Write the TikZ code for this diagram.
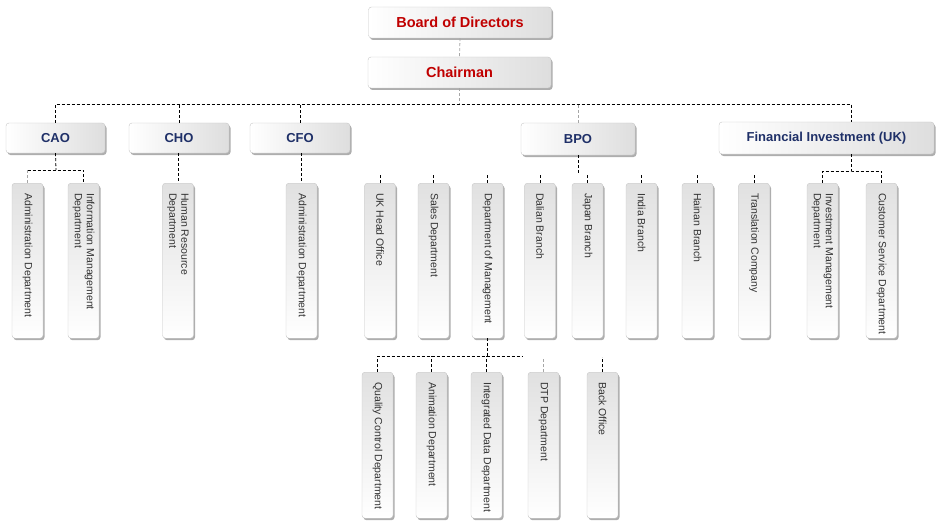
\documentclass[tikz,border=0pt]{standalone}
\usepackage{fontspec}
\setmainfont{Liberation Sans}
\usetikzlibrary{shadows}
\definecolor{boardred}{HTML}{C00000}
\definecolor{chiefblue}{HTML}{1F3068}
\definecolor{deptgray}{HTML}{333333}
\newcommand{\vlabel}[2][145pt]{\rotatebox{-90}{\hspace*{10pt}\parbox{#1}{\raggedright #2}}}

\begin{document}
\begin{tikzpicture}[x=1pt,y=-1pt]
\tikzset{
  boxbase/.style={draw=black!22,line width=0.4pt,rounded corners=3pt,inner sep=0pt,
    drop shadow={shadow xshift=1.5pt,shadow yshift=-2pt,opacity=0.45,fill=black!70}},
  topbox/.style={boxbase,left color=white,right color=black!13,minimum width=183pt,minimum height=31pt,
    text=boardred,font=\fontsize{14.5}{16}\selectfont\bfseries},
  chiefbox/.style={boxbase,left color=white,right color=black!13,minimum height=30pt,
    text=chiefblue,font=\fontsize{13}{15}\selectfont\bfseries},
  deptbox/.style={boxbase,top color=black!12,bottom color=white,minimum width=31pt,minimum height=155pt,
    text=deptgray,font=\fontsize{10.5}{12}\selectfont},
  unitbox/.style={deptbox,minimum height=146pt},
  link/.style={draw=black,line width=0.8pt,dash pattern=on 3pt off 2pt},
  faintlink/.style={link,draw=black!35}
}
\useasboundingbox (0,0) rectangle (947,532);
% top of the tree
\node[topbox] (n_board) at (460,22.5) {Board of Directors};
\node[topbox] (n_chair) at (459.5,72.5) {Chairman};
% chiefs
\node[chiefbox,minimum width=99pt] (n_cao) at (55.5,138) {CAO};
\node[chiefbox,minimum width=100pt] (n_cho) at (179,138) {CHO};
\node[chiefbox,minimum width=100pt] (n_cfo) at (300,138) {CFO};
\node[chiefbox,minimum width=114pt,minimum height=32pt] (n_bpo) at (578,139) {BPO};
\node[chiefbox,minimum width=215pt,minimum height=32pt] (n_finv) at (826.5,138) {Financial Investment (UK)};
% departments
\node[deptbox,anchor=north] (n_admin) at (27.5,183) {\vlabel{Administration Department}};
\node[deptbox,anchor=north] (n_infomgmt) at (83.5,183) {\vlabel{Information Management\\Department}};
\node[deptbox,anchor=north] (n_hr) at (178,183) {\vlabel{Human Resource\\Department}};
\node[deptbox,anchor=north] (n_cfoadmin) at (301.5,183) {\vlabel{Administration Department}};
\node[deptbox,anchor=north] (n_ukoffice) at (380,183) {\vlabel{UK Head Office}};
\node[deptbox,anchor=north] (n_sales) at (433.5,183) {\vlabel{Sales Department}};
\node[deptbox,anchor=north] (n_deptmgmt) at (487.5,183) {\vlabel{Department of Management}};
\node[deptbox,anchor=north] (n_dalian) at (540,183) {\vlabel{Dalian Branch}};
\node[deptbox,anchor=north] (n_japan) at (587.5,183) {\vlabel{Japan Branch}};
\node[deptbox,anchor=north] (n_india) at (641.5,183) {\vlabel{India Branch}};
\node[deptbox,anchor=north] (n_hainan) at (697.5,183) {\vlabel{Hainan Branch}};
\node[deptbox,anchor=north] (n_translation) at (754,183) {\vlabel{Translation Company}};
\node[deptbox,anchor=north] (n_investmgmt) at (822.5,183) {\vlabel{Investment Management\\Department}};
\node[deptbox,anchor=north] (n_custservice) at (881.5,183) {\vlabel{Customer Service Department}};
% units
\node[unitbox,anchor=north] (n_quality) at (377.5,372) {\vlabel[136pt]{Quality Control Department}};
\node[unitbox,anchor=north] (n_animation) at (431.5,372) {\vlabel[136pt]{Animation Department}};
\node[unitbox,anchor=north] (n_integrated) at (486.5,372) {\vlabel[136pt]{Integrated Data Department}};
\node[unitbox,anchor=north] (n_dtp) at (543.5,372) {\vlabel[136pt]{DTP Department}};
\node[unitbox,anchor=north] (n_backoffice) at (602.5,372) {\vlabel[136pt]{Back Office}};
% connectors
\coordinate (busend) at (851,104);
\coordinate (caobus) at (56,170);
\coordinate (finbus) at (851,171);
\coordinate (mgmtbus) at (522,356);
\draw[faintlink] (n_board.south) -- (n_chair.north);
\draw[faintlink] (n_chair.south) -- (n_chair.south |- busend);
\draw[link] (n_cao.north) |- (busend) -- (busend |- n_finv.north);
\draw[link] (n_cho.north) -- (n_cho.north |- busend);
\draw[link] (n_cfo.north) -- (n_cfo.north |- busend);
\draw[faintlink] (n_bpo.north) -- (n_bpo.north |- busend);
\draw[link] (n_cao.south) -- (caobus);
\draw[link] (n_admin.north |- caobus) -| (n_infomgmt.north);
\draw[faintlink] (n_admin.north) -- (n_admin.north |- caobus);
\draw[link] (n_hr.north |- n_cho.south) -- (n_hr.north);
\draw[link] (n_cfoadmin.north |- n_cfo.south) -- (n_cfoadmin.north);
\draw[link] (n_bpo.south) -- ++(0,18);
\foreach \n in {ukoffice,sales,deptmgmt,dalian,japan,india,hainan,translation}
  \draw[link] (n_\n.north) -- ++(0,-10);
\draw[link] (n_finv.south -| finbus) -- (finbus);
\draw[link] (n_investmgmt.north) |- (finbus) -| (n_custservice.north);
\draw[link] (n_deptmgmt.south) -- (n_deptmgmt.south |- mgmtbus);
\draw[link] (n_quality.north) |- (mgmtbus);
\draw[link] (n_animation.north) -- (n_animation.north |- mgmtbus);
\draw[link] (n_integrated.north) -- (n_integrated.north |- mgmtbus);
\draw[faintlink] (n_dtp.north) -- ++(0,-14);
\draw[link] (n_backoffice.north) -- ++(0,-15);
\end{tikzpicture}
\end{document}
